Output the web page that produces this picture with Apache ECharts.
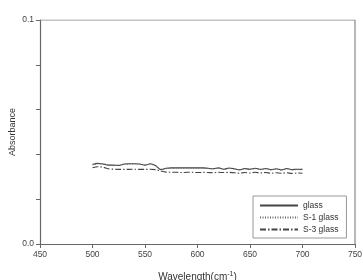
<!DOCTYPE html>
<html><head><meta charset="utf-8">
<script src="https://cdn.jsdelivr.net/npm/echarts@6/dist/echarts.min.js"></script>
<style>html,body{margin:0;padding:0;background:#fff}#c{width:363px;height:280px}</style>
</head><body><div id="c"></div>
<script>
const wavelengths = [500,505,510,515,520,525,530,535,540,545,550,555,560,565,570,575,580,585,590,595,600,605,610,615,620,625,630,635,640,645,650,655,660,665,670,675,680,685,690,695,700];
const glass = [0.0355,0.0360,0.0357,0.0352,0.0352,0.0351,0.0357,0.0358,0.0358,0.0357,0.0352,0.0358,0.0350,0.0332,0.0338,0.0340,0.0340,0.0340,0.0340,0.0340,0.0340,0.0340,0.0338,0.0336,0.0340,0.0334,0.0339,0.0336,0.0331,0.0337,0.0334,0.0338,0.0333,0.0337,0.0332,0.0336,0.0331,0.0337,0.0332,0.0334,0.0333];
const s1glass = [0.0353,0.0358,0.0359,0.0354,0.0350,0.0350,0.0355,0.0356,0.0357,0.0356,0.0353,0.0356,0.0348,0.0334,0.0336,0.0338,0.0338,0.0339,0.0339,0.0338,0.0338,0.0339,0.0337,0.0335,0.0338,0.0333,0.0337,0.0335,0.0332,0.0335,0.0333,0.0336,0.0332,0.0335,0.0331,0.0334,0.0330,0.0335,0.0331,0.0332,0.0331];
const s3glass = [0.0340,0.0345,0.0343,0.0336,0.0334,0.0333,0.0333,0.0333,0.0334,0.0333,0.0333,0.0334,0.0332,0.0326,0.0321,0.0320,0.0320,0.0319,0.0320,0.0320,0.0319,0.0320,0.0319,0.0318,0.0320,0.0319,0.0320,0.0318,0.0316,0.0319,0.0317,0.0320,0.0317,0.0319,0.0316,0.0318,0.0316,0.0318,0.0315,0.0317,0.0316];
const seriesNames = ['glass','S-1 glass','S-3 glass'];
const xTicks = [450,500,550,600,650,700,750];
const yLabels = [0.0, 0.1];

const chart = echarts.init(document.getElementById('c'), null, {renderer:'canvas'});
const lineColor = '#444';
function mk(arr){ return wavelengths.map((w,i)=>[w,arr[i]]); }
chart.setOption({
  animation:false,
  backgroundColor:'#fff',
  textStyle:{fontFamily:'Liberation Sans, Arial, sans-serif'},
  grid:{left:40,right:8,top:20,bottom:36,containLabel:false,outerBoundsMode:'none'},
  graphic:[{
    type:'text', x:13, y:132, rotation:Math.PI/2,
    style:{text:'Absorbance', fontSize:9, fill:'#333', align:'center', verticalAlign:'middle', fontFamily:'Liberation Sans, Arial, sans-serif'}
  }],
  legend:{
    orient:'vertical', left:253, top:196,
    backgroundColor:'#fff', borderColor:'#999', borderWidth:1,
    padding:[5,8,4,6], itemGap:3, itemWidth:38, itemHeight:9,
    itemStyle:{opacity:0},
    textStyle:{fontSize:8.5,color:'#333'},
    data:seriesNames
  },
  xAxis:{
    type:'value', min:xTicks[0], max:xTicks[xTicks.length-1], interval:50,
    name:'{a|Wavelength(cm}{s|-1}{a|)}', nameLocation:'middle', nameGap:27,
    nameTextStyle:{rich:{a:{fontSize:10,color:'#333'},s:{fontSize:7,color:'#333',verticalAlign:'top',padding:[0,0,6,0]}}},
    axisLine:{show:true,onZero:false,lineStyle:{color:'#666',width:1.2}},
    axisTick:{show:true,length:4,lineStyle:{color:'#666'}},
    axisLabel:{fontSize:8.5,color:'#444',margin:6},
    splitLine:{show:false}
  },
  yAxis:{
    type:'value', min:0, max:0.1, interval:0.02,
    axisLine:{show:true,lineStyle:{color:'#666',width:1.2}},
    axisTick:{show:true,length:4,lineStyle:{color:'#666'}},
    axisLabel:{fontSize:8.5,color:'#444',margin:6,
      formatter:v=>{ for(const l of yLabels){ if(Math.abs(v-l)<1e-9) return l.toFixed(1);} return ''; }},
    splitLine:{show:false}
  },
  series:[
    {name:seriesNames[0],type:'line',data:mk(glass),symbol:'none',smooth:0.3,lineStyle:{color:lineColor,width:1.1,type:'solid'},itemStyle:{color:lineColor}},
    {name:seriesNames[1],type:'line',data:mk(s1glass),symbol:'none',smooth:0.3,lineStyle:{color:'#666',width:1,type:[1,1.5]},itemStyle:{color:'#666'}},
    {name:seriesNames[2],type:'line',data:mk(s3glass),symbol:'none',smooth:0.3,lineStyle:{color:lineColor,width:1.1,type:[6,2,1.5,2]},itemStyle:{color:lineColor}},
    {type:'line',data:[[450,0.1],[750,0.1],[750,0]],symbol:'none',silent:true,lineStyle:{color:'#888',width:1.2},tooltip:{show:false}}
  ]
});
</script></body></html>
